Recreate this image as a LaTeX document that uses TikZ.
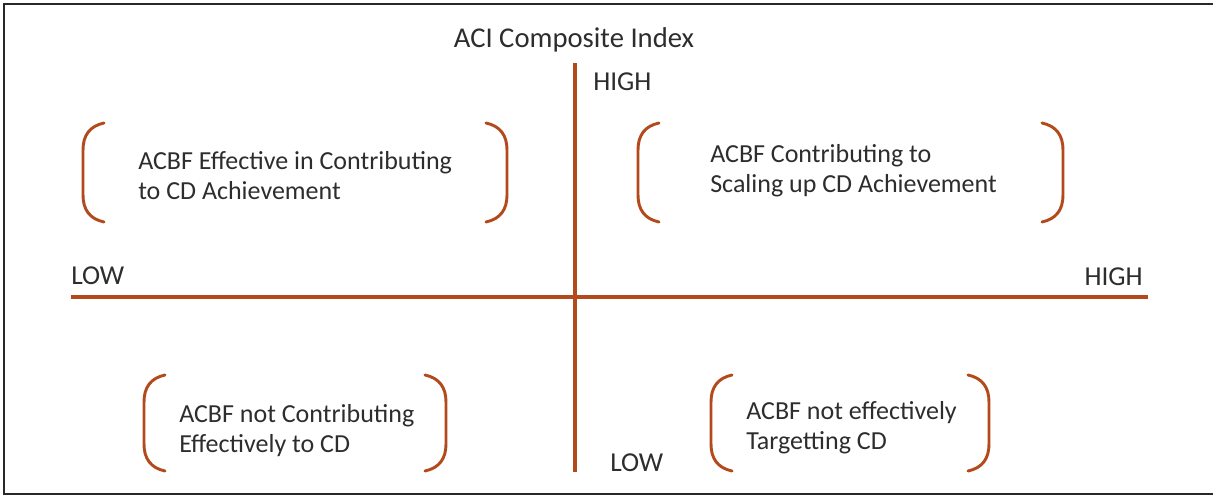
\documentclass[tikz,border=0pt]{standalone}
\usepackage{fontspec}
\setmainfont{Carlito}
\usetikzlibrary{positioning}

\definecolor{axisrust}{RGB}{178,74,28}
\definecolor{txtgray}{RGB}{45,45,45}
\definecolor{framegray}{RGB}{40,40,40}

\tikzset{
  axisline/.style={draw=axisrust, line width=2.5pt},
  bracketline/.style={draw=axisrust, line width=2.2pt, line cap=round},
  quadtext/.style={anchor=base west, inner sep=0pt, align=left, text=txtgray,
    font=\fontsize{19.5}{22.5}\selectfont},
  axislabel/.style={anchor=base west, inner sep=0pt, text=txtgray,
    font=\fontsize{20.5}{24}\selectfont},
}

% pair of round brackets: left x, right x, top y, bottom y
\newcommand{\quadbrackets}[4]{%
  \draw[bracketline] (#1+21,#3) .. controls (#1+7,#3+3) and (#1,#3+12) .. (#1,#3+27)
    -- (#1,#4-27) .. controls (#1,#4-12) and (#1+7,#4-3) .. (#1+21,#4);
  \draw[bracketline] (#2-21,#3) .. controls (#2-7,#3+3) and (#2,#3+12) .. (#2,#3+27)
    -- (#2,#4-27) .. controls (#2,#4-12) and (#2-7,#4-3) .. (#2-21,#4);
}

\begin{document}
\begin{tikzpicture}[x=0.75pt,y=0.75pt,yscale=-1,xscale=1]
\useasboundingbox (0,0) rectangle (1213,496);

%Frame
\draw [framegray, line width=1.6pt] (1215,4) -- (4,4) -- (4,494) -- (1215,494);

%Axes
\coordinate (xlow) at (71,297);
\coordinate (xhigh) at (1148,297);
\coordinate (ytop) at (575,63);
\coordinate (ybot) at (575,472);
\draw [axisline] (xlow) -- (xhigh);
\draw [axisline] (ytop) -- (ybot);

% Text Node
\node (title) [anchor=base, inner sep=0pt, text=txtgray, font=\fontsize{21.5}{24}\selectfont] at (574,47) {ACI Composite Index};
% Text Node
\node (yhigh) [axislabel] at (593,90) {HIGH};
% Text Node
\node (ylow) [axislabel] at (610,471) {LOW};
% Text Node
\node (lowlab) [axislabel] at (71,284) {LOW};
% Text Node
\node (highlab) [axislabel, anchor=base east] at (1143,285) {HIGH};

% Quadrants
\node (effective) [quadtext] at (138,199) {ACBF Effective in Contributing\\to CD Achievement};
\quadbrackets{83}{507}{123}{222}

\node (scaling) [quadtext] at (710,192) {ACBF Contributing to\\Scaling up CD Achievement};
\quadbrackets{638}{1063}{123}{222}

\node (notcontrib) [quadtext] at (179,452) {ACBF not Contributing\\Effectively to CD};
\quadbrackets{144}{446}{375}{471}

\node (nottarget) [quadtext] at (746,449) {ACBF not effectively\\Targetting CD};
\quadbrackets{711}{989}{375}{471}

\end{tikzpicture}
\end{document}
